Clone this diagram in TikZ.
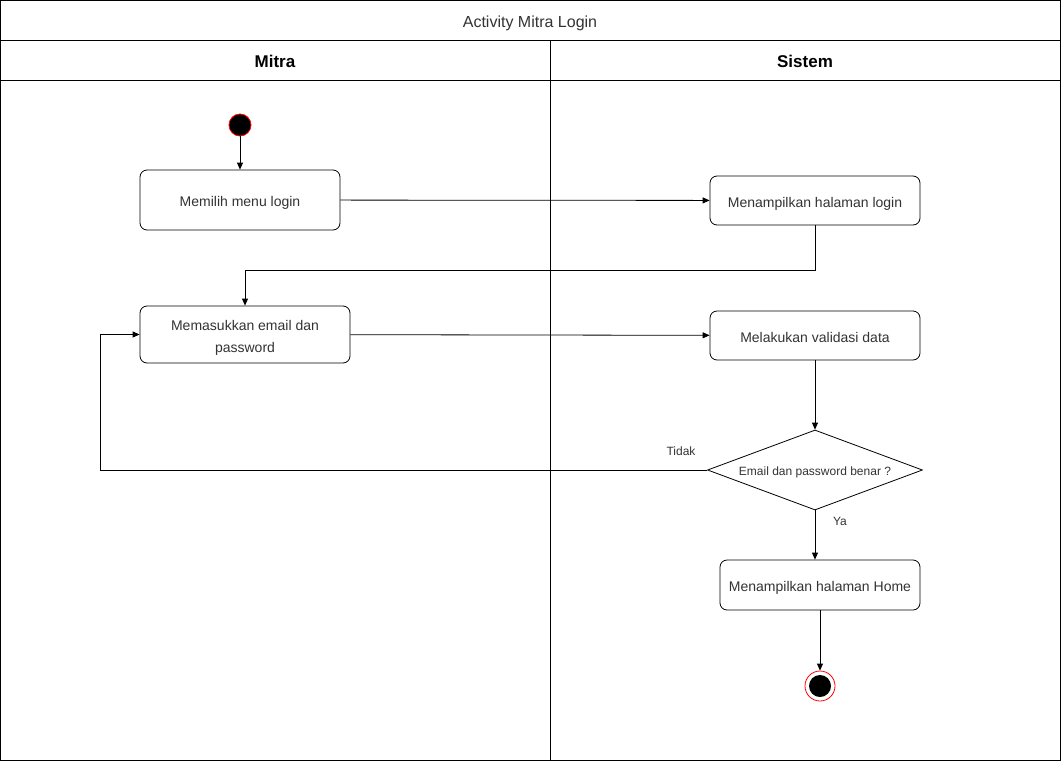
\documentclass[tikz,border=0pt]{standalone}
\usepackage{fontspec}
\setmainfont{Liberation Sans}
\usetikzlibrary{arrows.meta,shapes.geometric}
\definecolor{txt}{HTML}{333333}
\definecolor{startred}{HTML}{FF0000}
\begin{document}
\begin{tikzpicture}[x=1pt,y=-1pt,
  frame/.style={draw=black,line width=0.8pt},
  action/.style={draw=black,line width=0.8pt,rounded corners=7pt,fill=white,
    text=txt,font=\fontsize{14}{22}\selectfont,align=center,inner sep=0pt,
    text height=13pt,text depth=0pt},
  flow/.style={draw=black,line width=0.8pt,-{Triangle[length=7pt,width=6pt]}},
  guard/.style={text=txt,font=\fontsize{12}{14}\selectfont,text height=11pt,text depth=0pt},
  lanehead/.style={font=\bfseries\fontsize{17}{20}\selectfont,text=black,text height=15.5pt,text depth=0pt}]
\useasboundingbox (0,0) rectangle (1061,761);
% swimlane frame
\draw[frame] (0.5,0.5) rectangle (1060.5,760.5);
\draw[frame] (0.5,40) -- (1060.5,40);
\draw[frame] (0.5,80) -- (1060.5,80);
\draw[frame] (550,40) -- (550,760.5);
\node[text=txt,font=\fontsize{16}{20}\selectfont,text height=15pt,text depth=0pt] (title) at (530,20) {Activity Mitra Login};
\node[lanehead] (laneA) at (275,60) {Mitra};
\node[lanehead] (laneB) at (805,60) {Sistem};
% initial and final states
\node[circle,fill=black,draw=startred,line width=0.8pt,minimum size=22pt,inner sep=0pt] (start) at (240,125) {};
\node[circle,draw=startred,line width=0.8pt,minimum size=30pt,inner sep=0pt,fill=white] (stop) at (820,686) {};
\node[circle,fill=black,minimum size=22pt,inner sep=0pt] (stopdot) at (820,686) {};
% actions
\node[action,minimum width=200pt,minimum height=60pt] (pilih) at (240,200) {Memilih menu login};
\node[action,minimum width=210pt,minimum height=49pt] (tampil) at (815,200.5) {Menampilkan halaman login};
\node[action,minimum width=210pt,minimum height=57pt,text height=36pt] (input) at (245,334.5) {Memasukkan email dan\\password};
\node[action,minimum width=210pt,minimum height=49pt] (valid) at (815,335.5) {Melakukan validasi data};
\node[diamond,draw=black,line width=0.8pt,fill=white,aspect=2.69,minimum width=215pt,minimum height=80pt,inner sep=0pt,
  text=txt,font=\fontsize{12}{14}\selectfont,text height=11pt,text depth=0pt] (cek) at (815,470) {Email dan password benar ?};
\node[action,minimum width=200pt,minimum height=50pt] (home) at (820,585) {Menampilkan halaman Home};
% control flow
\draw[flow] (start) -- (pilih);
\draw[flow] (pilih) -- (tampil);
\draw[flow] (tampil.south) |- (245,270) -- (input.north);
\draw[flow] (input) -- (valid);
\draw[flow] (valid) -- (cek);
\draw[flow] (cek.west) -- (100,470) |- (input.west);
\draw[flow] (cek.south) -- (cek.south |- home.north);
\draw[flow] (home) -- (stop);
\node[guard] (tidak) at (681,450) {Tidak};
\node[guard] (ya) at (840,520) {Ya};
\end{tikzpicture}
\end{document}
